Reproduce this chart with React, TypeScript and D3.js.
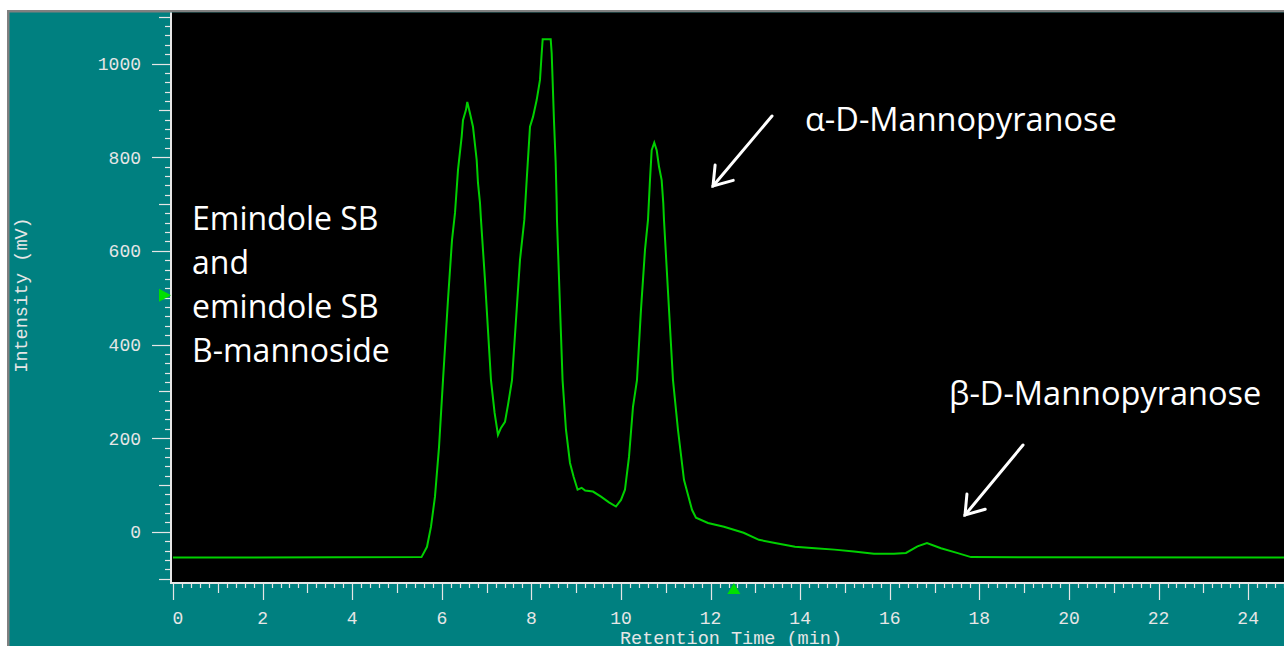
import React from "react";
import * as d3 from "d3";

// chromatogram trace (retention time in min, intensity in mV)
const times = [
  0, 5.547, 5.67, 5.759, 5.848, 5.938, 6.027, 6.138, 6.228, 6.295, 6.362, 6.444, 6.473, 6.54, 6.569,
  6.629, 6.696, 6.779, 6.808, 6.853, 6.875, 6.964, 7.031, 7.098, 7.179, 7.254, 7.321, 7.411, 7.478,
  7.567, 7.656, 7.746, 7.842, 7.895, 7.969, 8.036, 8.118, 8.192, 8.23, 8.252, 8.431, 8.453, 8.475,
  8.504, 8.542, 8.565, 8.571, 8.696, 8.772, 8.862, 8.944, 9.031, 9.121, 9.2, 9.375, 9.554, 9.732,
  9.888, 10.0, 10.089, 10.179, 10.268, 10.357, 10.446, 10.536, 10.603, 10.647, 10.685, 10.743, 10.797,
  10.848, 10.908, 10.944, 10.96, 11.06, 11.161, 11.272, 11.406, 11.585, 11.674, 11.942, 12.299, 12.737,
  13.08, 13.438, 13.884, 14.33, 14.766, 15.201, 15.647, 16.094, 16.362, 16.618, 16.83, 17.143, 17.5,
  17.813, 24.8,
];
const intensity = [
  -55, -54, -32, 11, 75, 181, 324, 495, 623, 681, 773, 844, 879, 901, 918,
  894, 865, 794, 745, 702, 666, 538, 431, 324, 254, 207, 222, 235, 271,
  324, 452, 581, 666, 751, 865, 886, 922, 965, 1022, 1052, 1052, 1022, 961,
  879, 788, 702, 666, 324, 218, 147, 117, 90, 94, 88, 86, 75, 63,
  54, 68, 90, 160, 267, 324, 474, 602, 666, 751, 815, 831, 815,
  780, 751, 702, 666, 495, 324, 218, 111, 47, 30, 19, 11, -2,
  -17, -24, -32, -35, -38, -42, -47, -47, -45, -31, -24, -35, -45,
  -54, -55,
];

const yTickLabels = [0, 200, 400, 600, 800, 1000];
const xTickLabels = [0, 2, 4, 6, 8, 10, 12, 14, 16, 18, 20, 22, 24];

const markerTime = 12.52;
const markerIntensity = 505;

const leftNotes = ["Emindole SB", "and", "emindole SB", "B-mannoside"];
const alphaNote = "\u03b1-D-Mannopyranose";
const betaNote = "\u03b2-D-Mannopyranose";

const W = 1284;
const H = 646;
const mono = "'Liberation Mono', 'DejaVu Sans Mono', monospace";
const sans = "'Open Sans', 'Noto Sans', sans-serif";
const axisInk = "#e6e6e6";

export default function App() {
  const x = d3.scaleLinear().domain([0, 24.8]).range([173, 1284]);
  const y = d3.scaleLinear().domain([-105, 1110]).range([581, 12]);

  const pts = times.map((t, i) => [t, intensity[i]] as [number, number]);
  const line = d3
    .line<[number, number]>()
    .x((d) => x(d[0]))
    .y((d) => y(d[1]));

  const yTicks = d3.range(-100, 1101, 20);
  const xTicks = d3.range(0, 125);

  const arrow = (x1: number, y1: number, x2: number, y2: number) => {
    const a = Math.atan2(y2 - y1, x2 - x1);
    const len = 21;
    const spread = 0.6;
    const b1 = [x2 - len * Math.cos(a - spread), y2 - len * Math.sin(a - spread)];
    const b2 = [x2 - len * Math.cos(a + spread), y2 - len * Math.sin(a + spread)];
    return (
      <g stroke="#fff" strokeWidth={3} fill="none" strokeLinecap="round">
        <line x1={x1} y1={y1} x2={x2} y2={y2} />
        <polyline points={`${b1[0]},${b1[1]} ${x2},${y2} ${b2[0]},${b2[1]}`} />
      </g>
    );
  };

  return (
    <svg
      width={W}
      height={H}
      style={{ position: "absolute", left: 0, top: 0, background: "#fff" }}
    >
      {/* frame */}
      <rect x={7} y={10} width={W - 7} height={H - 10} fill="#808080" />
      <rect x={9.5} y={12.5} width={W - 9.5} height={H - 12.5} fill="#008080" />
      <rect x={172} y={12.5} width={W - 172} height={569.5} fill="#000" />

      {/* y axis */}
      <line x1={171} y1={12.5} x2={171} y2={584} stroke={axisInk} strokeWidth={2} />
      {yTicks.map((v) => {
        const len = v % 200 === 0 ? 18 : v % 100 === 0 ? 11 : 5;
        return (
          <line
            key={"yt" + v}
            x1={170 - len}
            x2={170}
            y1={Math.round(y(v)) + 0.5}
            y2={Math.round(y(v)) + 0.5}
            stroke={axisInk}
            strokeWidth={1.2}
          />
        );
      })}
      {yTickLabels.map((v) => (
        <text
          key={"yl" + v}
          x={141}
          y={y(v)}
          dy="0.36em"
          textAnchor="end"
          fontFamily={mono}
          fontSize={18}
          fill={axisInk}
        >
          {v}
        </text>
      ))}
      <text
        transform={`translate(27,295) rotate(-90)`}
        textAnchor="middle"
        fontFamily={mono}
        fontSize={18.5}
        fill={axisInk}
      >
        Intensity (mV)
      </text>

      {/* x axis */}
      <line x1={170} y1={583} x2={W} y2={583} stroke={axisInk} strokeWidth={2} />
      {xTicks.map((i) => {
        const len = i % 10 === 0 ? 17 : i % 5 === 0 ? 10 : 5;
        const px = Math.round(x(i * 0.2)) + 0.5;
        return (
          <line
            key={"xt" + i}
            x1={px}
            x2={px}
            y1={583}
            y2={583 + len}
            stroke={axisInk}
            strokeWidth={1.2}
          />
        );
      })}
      {xTickLabels.map((t) => (
        <text
          key={"xl" + t}
          x={x(t) + (t === 0 ? 5 : 0)}
          y={618}
          dy="0.36em"
          textAnchor="middle"
          fontFamily={mono}
          fontSize={18}
          fill={axisInk}
        >
          {t}
        </text>
      ))}
      <text
        x={731}
        y={644}
        textAnchor="middle"
        fontFamily={mono}
        fontSize={18.5}
        fill={axisInk}
      >
        Retention Time (min)
      </text>

      {/* cursor markers */}
      <path d={`M${171},${y(markerIntensity)} l-12,-6.5 l0,13 z`} fill="#00e000" />
      <path d={`M${x(markerTime)},${583} l-6.5,11 l13,0 z`} fill="#00e000" />

      {/* trace */}
      <path d={line(pts) ?? ""} fill="none" stroke="#00d000" strokeWidth={2} />

      {/* annotations */}
      {leftNotes.map((s, i) => (
        <text key={s} x={192} y={230 + i * 44} fontFamily={sans} fontSize={32} fill="#fff">
          {s}
        </text>
      ))}
      <text x={805} y={131} fontFamily={sans} fontSize={32.5} fill="#fff">
        {alphaNote}
      </text>
      <text x={949} y={405} fontFamily={sans} fontSize={32.5} fill="#fff">
        {betaNote}
      </text>
      {arrow(772, 116, 713, 186)}
      {arrow(1023, 445, 965, 515)}
    </svg>
  );
}
